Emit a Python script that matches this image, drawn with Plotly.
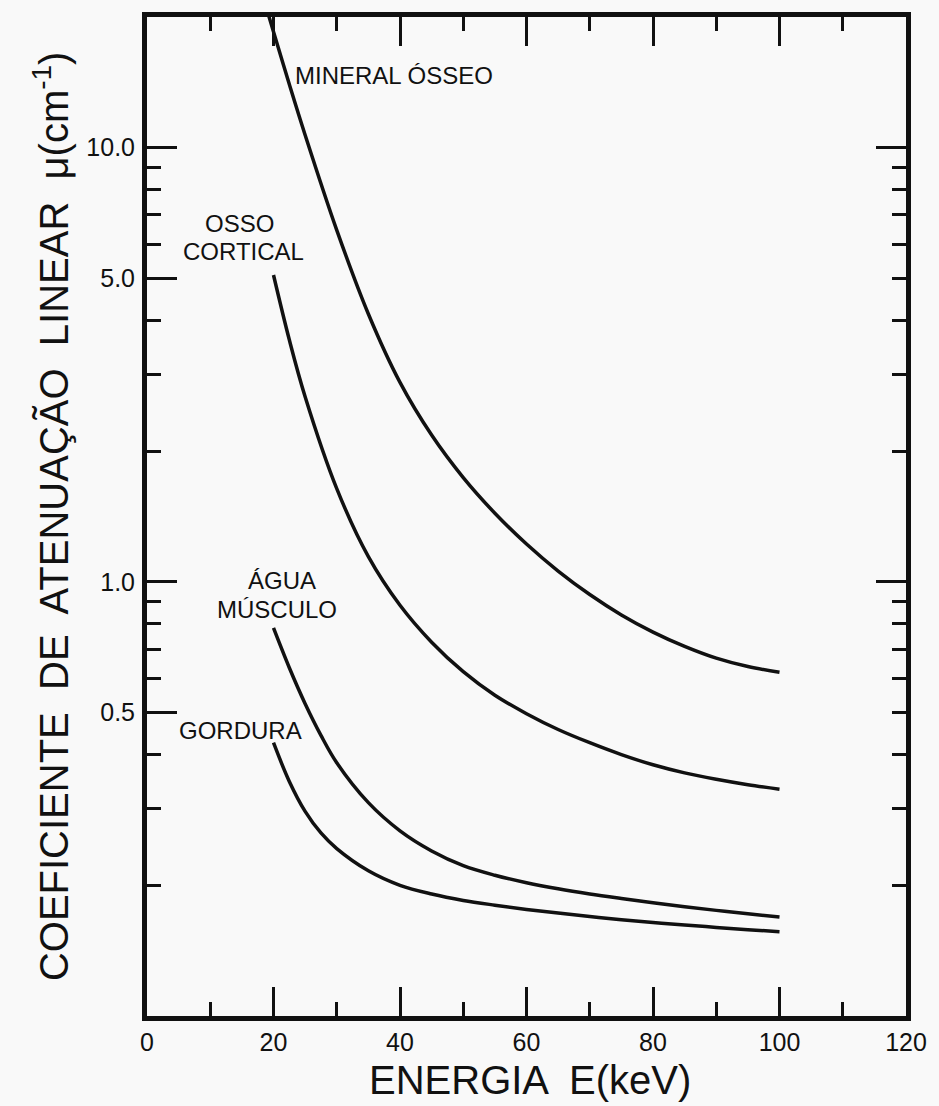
import plotly.graph_objects as go

# ---- data (energy keV, linear attenuation coefficient cm^-1)
mineral_x = [19.0, 20, 22.5, 25, 30, 35, 40, 45, 50, 55, 60, 65, 70, 75, 80, 85, 90, 95, 100]
mineral_y = [20.7, 18.5, 14.0, 10.7, 6.46, 4.14, 2.88, 2.178, 1.738, 1.439, 1.222, 1.059, 0.935, 0.839, 0.766, 0.710, 0.667, 0.638, 0.619]

cortical_x = [20, 22.5, 25, 30, 35, 40, 45, 50, 55, 60, 65, 70, 75, 80, 85, 90, 95, 100]
cortical_y = [5.09, 3.61, 2.67, 1.64, 1.143, 0.883, 0.726, 0.621, 0.548, 0.497, 0.457, 0.426, 0.400, 0.379, 0.363, 0.351, 0.341, 0.333]

agua_x = [20, 22.5, 25, 27.5, 30, 35, 40, 45, 50, 55, 60, 65, 70, 75, 80, 85, 90, 95, 100]
agua_y = [0.783, 0.634, 0.524, 0.443, 0.383, 0.310, 0.267, 0.240, 0.222, 0.211, 0.2028, 0.1963, 0.1910, 0.1865, 0.1824, 0.1786, 0.1751, 0.1719, 0.1690]

gordura_x = [20, 22.5, 25, 27.5, 30, 35, 40, 45, 50, 55, 60, 65, 70, 75, 80, 85, 90, 95, 100]
gordura_y = [0.426, 0.347, 0.296, 0.264, 0.243, 0.216, 0.200, 0.191, 0.1846, 0.180, 0.176, 0.1726, 0.1695, 0.1667, 0.1642, 0.162, 0.160, 0.158, 0.1564]

x_tickvals = [0, 20, 40, 60, 80, 100, 120]
x_ticktext = ["0", "20", "40", "60", "80", "100", "120"]
y_tickvals = [0.5, 1, 5, 10]
y_ticktext = ["0.5", "1.0", "5.0", "10.0"]
y_minor = [0.2, 0.3, 0.4, 0.6, 0.7, 0.8, 0.9, 2, 3, 4, 6, 7, 8, 9]
y2_tickvals = [1, 10]
y2_minor = [0.2, 0.3, 0.4, 0.5, 0.6, 0.7, 0.8, 0.9, 2, 3, 4, 5, 6, 7, 8, 9]

FONT = "Liberation Sans, Arial, sans-serif"
INK = "#111111"
BG = "#f9f9f9"

fig = go.Figure()
for xs, ys, nm in [(mineral_x, mineral_y, "Mineral ósseo"),
                   (cortical_x, cortical_y, "Osso cortical"),
                   (agua_x, agua_y, "Água / Músculo"),
                   (gordura_x, gordura_y, "Gordura")]:
    fig.add_trace(go.Scatter(x=xs, y=ys, mode="lines", name=nm,
                             line=dict(color=INK, width=3.5, shape="spline", smoothing=1.0),
                             showlegend=False, hoverinfo="x+y"))
# empty trace so the right-hand tick axis is rendered
fig.add_trace(go.Scatter(x=[], y=[], yaxis="y2", showlegend=False, hoverinfo="skip"))

fig.update_layout(
    width=939, height=1106,
    margin=dict(l=147, r=32, t=14, b=90),
    paper_bgcolor=BG, plot_bgcolor=BG,
    font=dict(family=FONT, color=INK),
    xaxis=dict(range=[0, 120], tickmode="array", tickvals=x_tickvals, ticktext=x_ticktext,
               ticks="inside", ticklen=29, tickwidth=2.5, tickcolor=INK,
               minor=dict(dtick=10, tick0=0, ticks="inside", ticklen=14, tickwidth=2.5, tickcolor=INK),
               showline=True, linewidth=5, linecolor=INK, mirror="ticks",
               showgrid=False, zeroline=False,
               tickfont=dict(size=25, family=FONT), ticklabelstandoff=0),
    yaxis=dict(type="log", range=[-1, 1.30103], tickmode="array",
               tickvals=y_tickvals, ticktext=y_ticktext,
               ticks="inside", ticklen=30, tickwidth=2.5, tickcolor=INK,
               minor=dict(tickmode="array", tickvals=y_minor, ticks="inside",
                          ticklen=14, tickwidth=2.5, tickcolor=INK),
               showline=True, linewidth=5, linecolor=INK, mirror=True,
               showgrid=False, zeroline=False,
               tickfont=dict(size=25, family=FONT), ticklabelstandoff=2),
    yaxis2=dict(type="log", range=[-1, 1.30103], overlaying="y", side="right", anchor="x",
                tickmode="array", tickvals=y2_tickvals, showticklabels=False,
                ticks="inside", ticklen=30, tickwidth=2.5, tickcolor=INK,
                minor=dict(tickmode="array", tickvals=y2_minor, ticks="inside",
                           ticklen=14, tickwidth=2.5, tickcolor=INK),
                showline=False, showgrid=False, zeroline=False),
)

lab = dict(size=24, family=FONT, color=INK)
annots = [
    dict(text="MINERAL ÓSSEO", x=23.05, y=1.167, xanchor="left"),
    dict(text="OSSO", x=14.7, y=0.8246, xanchor="center"),
    dict(text="CORTICAL", x=15.3, y=0.760, xanchor="center"),
    dict(text="ÁGUA", x=21.3, y=0.004, xanchor="center"),
    dict(text="MÚSCULO", x=20.5, y=-0.0628, xanchor="center"),
    dict(text="GORDURA", x=14.85, y=-0.343, xanchor="center"),
]
for a in annots:
    fig.add_annotation(xref="x", yref="y", yanchor="middle", showarrow=False, font=lab, **a)

fig.add_annotation(text="ENERGIA  E(keV)", xref="paper", yref="paper",
                   x=0.504, y=-0.0639, xanchor="center", yanchor="middle",
                   showarrow=False, font=dict(size=40, family=FONT, color=INK))
fig.add_annotation(text="COEFICIENTE  DE  ATENUAÇÃO  LINEAR  μ(cm<sup>-1</sup>)",
                   xref="paper", yref="paper", x=-0.127, y=0.500,
                   xanchor="center", yanchor="middle", textangle=-90,
                   showarrow=False, font=dict(size=40, family=FONT, color=INK))

fig.write_html("out.html")
